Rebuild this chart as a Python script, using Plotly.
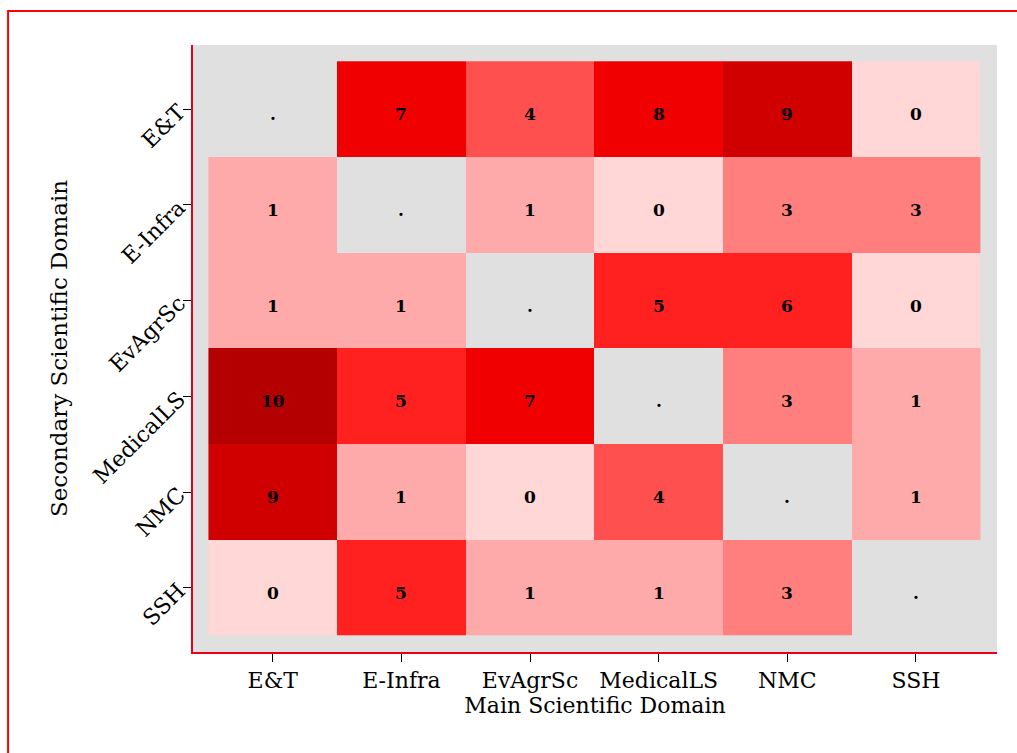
import math
import plotly.graph_objects as go

# Domain categories (main on x, secondary on y)
main_domains = ["E&T", "E-Infra", "EvAgrSc", "MedicalLS", "NMC", "SSH"]
secondary_domains = ["E&T", "E-Infra", "EvAgrSc", "MedicalLS", "NMC", "SSH"]

# Counts per secondary domain (rows) across main domains (columns); None = same domain
row_et = [None, 7, 4, 8, 9, 0]
row_einfra = [1, None, 1, 0, 3, 3]
row_evagrsc = [1, 1, None, 5, 6, 0]
row_medicalls = [10, 5, 7, None, 3, 1]
row_nmc = [9, 1, 0, 4, None, 1]
row_ssh = [0, 5, 1, 1, 3, None]

counts = [row_et, row_einfra, row_evagrsc, row_medicalls, row_nmc, row_ssh]

# Stepped red palette, one colour per integer count 0..10
step_colors = ["#FFD7D7", "#FFAAAA", "#FF9494", "#FF7F7F", "#FF5050", "#FF2020",
               "#FF2020", "#F00000", "#F00000", "#D00000", "#B40000"]

colorscale = []
n = len(step_colors)
for i, c in enumerate(step_colors):
    colorscale.append([i / n, c])
    colorscale.append([(i + 1) / n, c])

FONT = "DejaVu Serif"
RED = "#E8001C"

z = [[math.nan if v is None else v for v in row] for row in counts]

fig = go.Figure()
fig.add_trace(go.Heatmap(
    x=main_domains,
    y=secondary_domains,
    z=z,
    zmin=-0.5,
    zmax=10.5,
    colorscale=colorscale,
    showscale=False,
    hoverongaps=False,
))

# Cell labels: the count, or a dot for the diagonal
annotations = []
for r, sec in enumerate(secondary_domains):
    for c, mn in enumerate(main_domains):
        v = counts[r][c]
        annotations.append(dict(
            x=mn, y=sec, xref="x", yref="y",
            text="." if v is None else str(v),
            showarrow=False, yshift=-5,
            font=dict(family=FONT, size=17, color="black", weight="bold"),
        ))

fig.update_layout(
    width=1017,
    height=753,
    margin=dict(l=193, r=20, t=45, b=101),
    paper_bgcolor="white",
    plot_bgcolor="#E0E0E0",
    font=dict(family=FONT, color="black"),
    showlegend=False,
    annotations=annotations,
    xaxis=dict(
        type="category",
        range=[-0.62, 5.63],
        showgrid=False, zeroline=False,
        showline=True, linecolor=RED, linewidth=1.5,
        ticks="outside", ticklen=8, tickcolor="black", tickwidth=1,
        tickfont=dict(family=FONT, size=22),
        title=dict(text="Main Scientific Domain", font=dict(family=FONT, size=22), standoff=0),
    ),
    yaxis=dict(
        type="category",
        autorange=False,
        range=[5.67, -0.67],
        showgrid=False, zeroline=False,
        showline=True, linecolor=RED, linewidth=1.5,
        ticks="outside", ticklen=8, tickcolor="black", tickwidth=1,
        tickangle=-45,
        tickfont=dict(family=FONT, size=22),
        title=dict(text="Secondary Scientific Domain", font=dict(family=FONT, size=23), standoff=14),
    ),
    shapes=[dict(
        type="rect", xref="paper", yref="paper",
        x0=-0.230, x1=1.2, y0=-0.4, y1=1.056,
        line=dict(color="red", width=2), fillcolor="rgba(0,0,0,0)",
        layer="above",
    )],
)

fig.write_html("out.html")
